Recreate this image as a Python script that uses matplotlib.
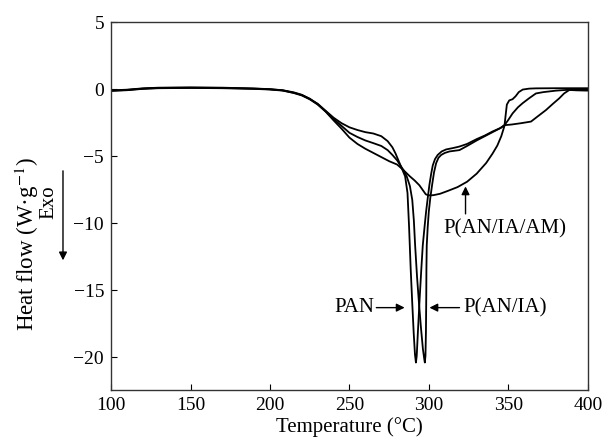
import matplotlib
matplotlib.use("Agg")
import matplotlib.pyplot as plt

plt.rcParams['font.family'] = ['Liberation Serif', 'DejaVu Serif']
plt.rcParams['mathtext.fontset'] = 'stix'

# DSC traces, temperature (°C) vs heat flow (W/g)
pan_t = [100, 110, 120, 130, 150, 170, 190, 200, 208, 215, 220, 225, 230, 235, 240,
         245, 250, 255, 260, 265, 270, 274, 277, 279, 281, 283, 285, 286.5, 287.5,
         288.5, 289.5, 290.4, 291.2, 291.8, 292.3, 293.0, 294.2, 295.2, 296.1, 297.2,
         298.2, 299.3, 300.3, 301.4, 302.4, 303.8, 305.5, 308, 310.8, 315, 319, 324,
         330, 335, 340, 345, 347.5, 350, 352.6, 356, 359, 363, 367.3, 372, 380, 386,
         392, 400]
pan_q = [-0.1, -0.05, 0.05, 0.1, 0.12, 0.1, 0.05, 0.0, -0.08, -0.26, -0.43, -0.72,
         -1.08, -1.6, -2.12, -2.53, -2.84, -3.04, -3.2, -3.3, -3.5, -3.87, -4.33,
         -4.8, -5.37, -5.93, -6.5, -7.74, -10.3, -13.4, -16.0, -18.2, -19.8, -20.4,
         -19.9, -18.2, -15.5, -13.4, -11.66, -10.3, -9.13, -8.05, -7.12, -6.3, -5.68,
         -5.21, -4.9, -4.64, -4.49, -4.39, -4.28, -4.08, -3.72, -3.46, -3.15, -2.89,
         -2.68, -2.27, -1.8, -1.34, -1.03, -0.67, -0.31, -0.21, -0.1, -0.05, -0.02, 0.0]

anai_t = [100, 110, 120, 130, 150, 170, 190, 200, 208, 215, 220, 225, 230, 235, 240,
          245, 250, 255, 260, 265, 270, 274, 277, 280, 282, 284, 286, 288, 289.5,
          290.5, 291.3, 292.5, 293.8, 295, 296.2, 297, 297.4, 297.8, 298.1, 298.3,
          298.4, 298.6, 299.2, 299.9, 300.9, 302, 303.2, 304.5, 306, 307.7, 310,
          312.9, 316, 319.2, 324, 330, 335, 340, 345, 347.5, 352, 358, 364.2, 368,
          373.6, 378, 382, 385, 388.3, 393, 400]
anai_q = [-0.12, -0.07, 0.03, 0.08, 0.1, 0.08, 0.03, -0.02, -0.1, -0.28, -0.46,
          -0.75, -1.14, -1.65, -2.22, -2.73, -3.25, -3.56, -3.82, -4.02, -4.23,
          -4.54, -4.9, -5.31, -5.68, -6.04, -6.5, -7.22, -8.26, -9.8, -11.66, -14.0,
          -16.1, -17.85, -19.4, -20.1, -20.4, -19.9, -18.06, -15.5, -13.4, -11.66,
          -10.3, -9.13, -8.05, -7.12, -6.19, -5.52, -5.11, -4.9, -4.75, -4.64, -4.59,
          -4.54, -4.23, -3.82, -3.51, -3.2, -2.89, -2.68, -2.63, -2.53, -2.41, -2.06,
          -1.55, -1.08, -0.67, -0.31, -0.05, -0.08, -0.1]

am_t = [100, 110, 120, 130, 150, 170, 190, 200, 208, 215, 220, 225, 230, 235, 240,
        245, 250, 255, 260, 265, 270, 275, 280, 284, 288, 291, 294, 296.5, 298,
        299.3, 301, 303, 307, 312, 318, 324, 330, 336, 340, 343, 345.5, 347.5,
        348.3, 349, 350.5, 352.6, 354.5, 356.5, 359, 363, 367.3, 380, 390, 400]
am_q = [-0.08, -0.03, 0.07, 0.12, 0.14, 0.12, 0.06, 0.01, -0.07, -0.23, -0.41, -0.7,
        -1.11, -1.67, -2.32, -2.94, -3.61, -4.08, -4.44, -4.75, -5.06, -5.37, -5.62,
        -6.04, -6.5, -6.81, -7.17, -7.59, -7.84, -7.9, -7.92, -7.9, -7.8, -7.58,
        -7.3, -6.9, -6.3, -5.5, -4.8, -4.2, -3.5, -2.73, -1.86, -1.14, -0.83,
        -0.74, -0.52, -0.21, -0.02, 0.05, 0.07, 0.08, 0.08, 0.08]

fig = plt.figure(figsize=(6.08, 4.40), dpi=100)
ax = fig.add_axes([0.1826, 0.1136, 0.7844, 0.8357])

for t, q in [(pan_t, pan_q), (anai_t, anai_q), (am_t, am_q)]:
    ax.plot(t, q, color='black', lw=1.3)

ax.set_xlim(100, 400)
ax.set_ylim(-22.45, 5)
ax.set_xticks(range(100, 401, 50))
ax.set_yticks(range(-20, 6, 5))
ax.tick_params(direction='in', length=4, width=0.8, labelsize=14, pad=5,
               top=False, right=False)
for s in ax.spines.values():
    s.set_linewidth(1.0)
    s.set_color('#333333')
ax.set_xlabel('Temperature (°C)', fontsize=15, labelpad=2)

arrow = dict(arrowstyle='-|>', color='black', lw=1.0, mutation_scale=12,
             shrinkA=0, shrinkB=0)
ax.annotate('', xy=(284.7, -16.3), xytext=(266.9, -16.3), arrowprops=arrow)
ax.text(265.5, -16.3, 'PAN', ha='right', va='center', fontsize=15)
ax.annotate('', xy=(300.3, -16.3), xytext=(319.2, -16.3), arrowprops=arrow)
ax.text(321.5, -16.3, 'P(AN/IA)', ha='left', va='center', fontsize=15)
ax.annotate('', xy=(323, -7.25), xytext=(323, -9.3), arrowprops=arrow)
ax.text(347.5, -10.4, 'P(AN/IA/AM)', ha='center', va='center', fontsize=15)

fig.text(0.044, 0.445, 'Heat flow (W·g$^{-1}$)', rotation=90, ha='center',
         va='center', fontsize=16.5)
fig.text(0.081, 0.541, 'Exo', rotation=90, ha='center', va='center', fontsize=15)
fig.add_artist(matplotlib.patches.FancyArrowPatch(
    (0.1036, 0.618), (0.1036, 0.402), transform=fig.transFigure,
    arrowstyle='-|>', color='black', lw=1.0, mutation_scale=12))

fig.savefig('out.png', dpi=100)
